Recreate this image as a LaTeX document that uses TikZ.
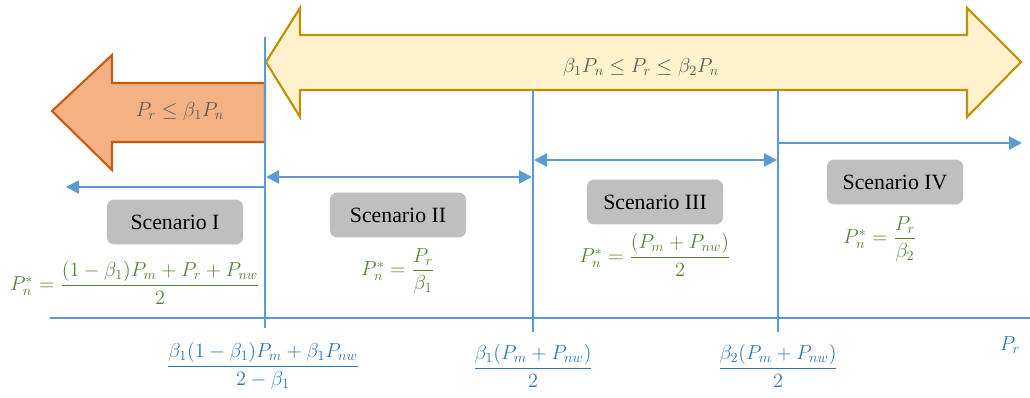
\documentclass[tikz,border=0pt]{standalone}
\usepackage{amsmath}
\usepackage{fontspec}
\setmainfont{Liberation Serif}
\usepackage{tikz}
\usetikzlibrary{arrows.meta}

\definecolor{lineblue}{HTML}{5B9BD5}
\definecolor{labelblue}{HTML}{2E75B6}
\definecolor{eqgreen}{HTML}{548235}
\definecolor{textgray}{HTML}{595959}
\definecolor{orangefill}{HTML}{F4B183}
\definecolor{orangeline}{HTML}{C55A11}
\definecolor{yellowfill}{HTML}{FFF2CC}
\definecolor{yellowline}{HTML}{BF9000}

\begin{document}
\begin{tikzpicture}[
				x=0.025cm, y=-0.025cm,
				scenario/.style = {fill=gray!50, rounded corners=5pt, minimum width=3.4cm, minimum height=1.12cm, font=\fontsize{15.5}{18}\selectfont},
				eq/.style = {text=eqgreen, font=\fontsize{14}{17}\selectfont},
				bound/.style = {text=labelblue, font=\fontsize{14.5}{17}\selectfont},
				region/.style = {text=textgray, font=\fontsize{14.5}{17}\selectfont},
				guide/.style = {draw=lineblue, line width=0.8pt},
				arrow/.style = {draw=lineblue, line width=1.8pt, -{Triangle[length=3.2mm, width=3.2mm]}},
				twoway/.style = {arrow, {Triangle[length=3.2mm, width=3.2mm]}-{Triangle[length=3.2mm, width=3.2mm]}}
				]
				\useasboundingbox (0,0) rectangle (1030,398);
				
				% block arrows
				\draw[fill=orangefill, draw=orangeline, line width=1.5pt]
					(265,83) -- (112,83) -- (112,55) -- (52,111) -- (112,170) -- (112,142) -- (265,142) -- cycle;
				\draw[fill=yellowfill, draw=yellowline, line width=1.5pt]
					(300,35) -- (300,8) -- (266,62) -- (300,117) -- (300,90) -- (967,90) -- (967,117) -- (1021,62) -- (967,8) -- (967,35) -- cycle;
				\node[region] (low) at (180,111) {$P_r \leq \beta_1 P_n$};
				\node[region] (mid) at (641,67) {$\beta_1 P_n \leq P_r \leq \beta_2 P_n$};
				
				% axis and thresholds
				\coordinate (a0) at (50,318);
				\coordinate (a1) at (1030,318);
				\coordinate (t1) at (265,37);
				\coordinate (b1) at (265,328);
				\coordinate (t2) at (533,90);
				\coordinate (b2) at (533,332);
				\coordinate (t3) at (778,90);
				\coordinate (b3) at (778,332);
				\draw[guide] (a0) -- (a1);
				\draw[guide] (t1) -- (b1);
				\draw[guide] (t2) -- (b2);
				\draw[guide] (t3) -- (b3);
				
				% ranges
				\coordinate (r1a) at (265,187);
				\coordinate (r1b) at (66,187);
				\coordinate (r2a) at (266,177);
				\coordinate (r2b) at (532,177);
				\coordinate (r3a) at (534,160);
				\coordinate (r3b) at (777,160);
				\coordinate (r4a) at (779,143);
				\coordinate (r4b) at (1022,143);
				\draw[arrow] (r1a) -- (r1b);
				\draw[twoway] (r2a) -- (r2b);
				\draw[twoway] (r3a) -- (r3b);
				\draw[arrow] (r4a) -- (r4b);
				
				% scenarios
				\node[scenario] (s1) at (175,222) {Scenario I};
				\node[scenario] (s2) at (398,215) {Scenario II};
				\node[scenario] (s3) at (655,202) {Scenario III};
				\node[scenario] (s4) at (895,182) {Scenario IV};
				
				\node[eq] (e1) at (135,283) {$P_n^{*} = \dfrac{(1-\beta_1)P_m + P_r + P_{nw}}{2}$};
				\node[eq] (e2) at (398,271) {$P_n^{*} = \dfrac{P_r}{\beta_1}$};
				\node[eq] (e3) at (655,255) {$P_n^{*} = \dfrac{(P_m + P_{nw})}{2}$};
				\node[eq] (e4) at (880,239) {$P_n^{*} = \dfrac{P_r}{\beta_2}$};
				
				% threshold values
				\node[bound] (v1) at (263,366) {$\dfrac{\beta_1(1-\beta_1)P_m + \beta_1 P_{nw}}{2-\beta_1}$};
				\node[bound] (v2) at (533,366) {$\dfrac{\beta_1(P_m + P_{nw})}{2}$};
				\node[bound] (v3) at (778,366) {$\dfrac{\beta_2(P_m + P_{nw})}{2}$};
				\node[bound] (pr) at (1010,345) {$P_r$};
			\end{tikzpicture}
\end{document}
